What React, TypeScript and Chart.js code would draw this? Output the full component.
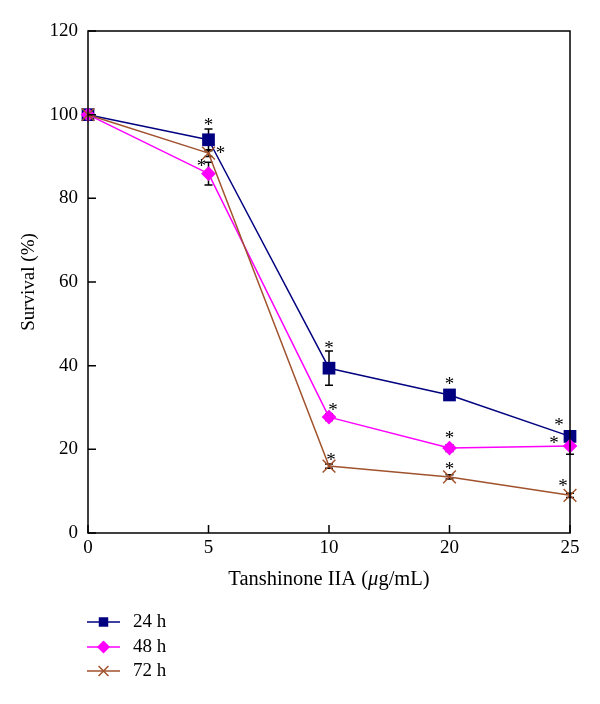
import React, { useEffect, useRef } from 'react';
import { Chart, registerables } from 'chart.js';

Chart.register(...registerables);

// ---- data ----
const concentrations = ['0', '5', '10', '20', '25'];
const yMin = 0;
const yMax = 120;
const yStep = 20;
const seriesLabels = ['24 h', '48 h', '72 h'];
const survival24h = [100, 94.0, 39.4, 33.0, 23.1];
const survival48h = [100, 85.9, 27.7, 20.3, 20.8];
const survival72h = [100, 90.8, 16.0, 13.4, 9.0];
const error24h = [0, 2.6, 4.1, 0.8, 0.8];
const error48h = [0, 2.7, 0.8, 0.8, 2.0];
const error72h = [0, 0.8, 0.5, 0.5, 0.5];
const significant24h = [false, true, true, true, true];
const significant48h = [false, true, true, true, true];
const significant72h = [false, true, true, true, true];
const xTitleParts = ['Tanshinone IIA (', 'μ', 'g/mL)'];
const yTitle = 'Survival (%)';

// ---- style ----
const FONT = '"Liberation Serif", "Times New Roman", serif';
const colors = ['#000080', '#ff00ff', '#a0522d'];
const pointStyles = ['rect', 'rectRot', 'crossRot'];
const pointRadii = [9, 6.3, 9];
const pointBorders = [0, 1.5, 1.5];
const legendRadii = [6.7, 5.5, 7];
// asterisk visual-centre offsets (px) from each point
const starOffsets24 = [[0, 0], [0, -18], [0, -24], [0, -14], [-11, -15]];
const starOffsets48 = [[0, 0], [-7, -11], [4, -11], [0, -14], [-16, -6]];
const starOffsets72 = [[0, 0], [12, -4], [2, -10], [0, -11], [-7, -13]];

const errors = [error24h, error48h, error72h];
const sigs = [significant24h, significant48h, significant72h];
const starOffsets = [starOffsets24, starOffsets48, starOffsets72];

function drawMarker(ctx: CanvasRenderingContext2D, style: string, x: number, y: number, r: number, color: string) {
  ctx.save();
  ctx.fillStyle = color;
  ctx.strokeStyle = color;
  ctx.lineWidth = 1.5;
  ctx.lineJoin = 'round';
  if (style === 'rect') {
    const s = r * Math.SQRT1_2;
    ctx.fillRect(x - s, y - s, 2 * s, 2 * s);
  } else if (style === 'rectRot') {
    ctx.beginPath();
    ctx.moveTo(x, y - r);
    ctx.lineTo(x + r, y);
    ctx.lineTo(x, y + r);
    ctx.lineTo(x - r, y);
    ctx.closePath();
    ctx.fill();
    ctx.stroke();
  } else {
    const s = r * Math.SQRT1_2;
    ctx.beginPath();
    ctx.moveTo(x - s, y - s);
    ctx.lineTo(x + s, y + s);
    ctx.moveTo(x + s, y - s);
    ctx.lineTo(x - s, y + s);
    ctx.stroke();
  }
  ctx.restore();
}

const decorPlugin = {
  id: 'decor',
  beforeDatasetsDraw(chart: any) {
    const ctx: CanvasRenderingContext2D = chart.ctx;
    const ys = chart.scales.y;
    ctx.save();
    ctx.strokeStyle = '#000';
    ctx.lineWidth = 1.5;
    chart.data.datasets.forEach((ds: any, di: number) => {
      const meta = chart.getDatasetMeta(di);
      meta.data.forEach((pt: any, i: number) => {
        const e = errors[di][i];
        if (!e) return;
        const v = ds.data[i];
        const yTop = ys.getPixelForValue(v + e);
        const yBot = ys.getPixelForValue(v - e);
        const x = pt.x;
        ctx.beginPath();
        ctx.moveTo(x, yTop);
        ctx.lineTo(x, yBot);
        ctx.moveTo(x - 4, yTop);
        ctx.lineTo(x + 4, yTop);
        ctx.moveTo(x - 4, yBot);
        ctx.lineTo(x + 4, yBot);
        ctx.stroke();
      });
    });
    ctx.restore();
  },
  afterDraw(chart: any) {
    const ctx: CanvasRenderingContext2D = chart.ctx;
    const a = chart.chartArea;
    const xs = chart.scales.x;
    const ys = chart.scales.y;
    ctx.save();
    // frame
    ctx.strokeStyle = '#000';
    ctx.lineWidth = 1.5;
    ctx.strokeRect(a.left, a.top, a.right - a.left, a.bottom - a.top);
    // inward ticks
    ctx.beginPath();
    xs.ticks.forEach((_t: any, i: number) => {
      const px = xs.getPixelForTick(i);
      ctx.moveTo(px, a.bottom);
      ctx.lineTo(px, a.bottom - 8);
    });
    ys.ticks.forEach((t: any) => {
      const py = ys.getPixelForValue(t.value);
      ctx.moveTo(a.left, py);
      ctx.lineTo(a.left + 8, py);
    });
    ctx.stroke();

    // asterisks
    ctx.fillStyle = '#000';
    ctx.font = `19px ${FONT}`;
    ctx.textAlign = 'center';
    ctx.textBaseline = 'alphabetic';
    const m = ctx.measureText('*');
    const baseShift = (m.actualBoundingBoxAscent - m.actualBoundingBoxDescent) / 2;
    chart.data.datasets.forEach((_ds: any, di: number) => {
      const meta = chart.getDatasetMeta(di);
      meta.data.forEach((pt: any, i: number) => {
        if (!sigs[di][i]) return;
        const [dx, dy] = starOffsets[di][i];
        ctx.fillText('*', pt.x + dx, pt.y + dy + baseShift);
      });
    });

    // x-axis title with italic mu
    ctx.textAlign = 'left';
    ctx.textBaseline = 'middle';
    const fonts = [`20.5px ${FONT}`, `italic 20.5px ${FONT}`, `20.5px ${FONT}`];
    let total = 0;
    const widths = xTitleParts.map((p, i) => {
      ctx.font = fonts[i];
      const w = ctx.measureText(p).width;
      total += w;
      return w;
    });
    let x = (a.left + a.right) / 2 - total / 2;
    const ty = 580;
    xTitleParts.forEach((p, i) => {
      ctx.font = fonts[i];
      ctx.fillText(p, x, ty);
      x += widths[i];
    });

    // legend
    const rows = [622, 647, 671];
    chart.data.datasets.forEach((ds: any, di: number) => {
      const y = rows[di];
      ctx.strokeStyle = colors[di];
      ctx.lineWidth = 1.5;
      ctx.beginPath();
      ctx.moveTo(87, y);
      ctx.lineTo(120, y);
      ctx.stroke();
      drawMarker(ctx, pointStyles[di], 103.5, y, legendRadii[di], colors[di]);
      ctx.fillStyle = '#000';
      ctx.font = `19px ${FONT}`;
      ctx.textAlign = 'left';
      ctx.textBaseline = 'middle';
      ctx.fillText(ds.label, 133, y);
    });
    ctx.restore();
  },
};

export default function App() {
  const ref = useRef<HTMLCanvasElement | null>(null);
  useEffect(() => {
    if (!ref.current) return;
    const seriesData = [survival24h, survival48h, survival72h];
    const chart = new Chart(ref.current, {
      type: 'line',
      data: {
        labels: concentrations,
        datasets: seriesData.map((d, i) => ({
          label: seriesLabels[i],
          data: d,
          borderColor: colors[i],
          backgroundColor: colors[i],
          pointBackgroundColor: colors[i],
          pointBorderColor: colors[i],
          pointStyle: pointStyles[i] as any,
          pointRadius: pointRadii[i],
          pointBorderWidth: pointBorders[i],
          borderWidth: 1.5,
          borderJoinStyle: 'round' as any,
          tension: 0,
          fill: false,
          clip: false as any,
          order: i === 0 ? 3 : i === 1 ? 2 : 1,
        })),
      },
      options: {
        responsive: false,
        animation: false,
        events: [],
        layout: { padding: { top: 31, right: 30, left: 0, bottom: 0 } },
        plugins: { legend: { display: false }, tooltip: { enabled: false } },
        scales: {
          x: {
            type: 'category',
            offset: false,
            grid: { display: false, drawTicks: false },
            border: { display: false },
            ticks: { color: '#000', font: { family: FONT, size: 19 }, padding: 4, maxRotation: 0 },
            afterFit: (s: any) => { s.height = 171; },
          },
          y: {
            type: 'linear',
            min: yMin,
            max: yMax,
            grid: { display: false, drawTicks: false },
            border: { display: false },
            ticks: { stepSize: yStep, color: '#000', font: { family: FONT, size: 19 }, padding: 10 },
            title: {
              display: true,
              text: yTitle,
              color: '#000',
              font: { family: FONT, size: 19 },
              padding: { top: 18, bottom: 0 },
            },
            afterFit: (s: any) => { s.width = 88; },
          },
        },
      },
      plugins: [decorPlugin],
    });
    return () => chart.destroy();
  }, []);
  return (
    <div style={{ position: 'absolute', left: 0, top: 0, width: 600, height: 704, background: '#fff' }}>
      <canvas ref={ref} width={600} height={704} style={{ width: 600, height: 704 }} />
    </div>
  );
}
